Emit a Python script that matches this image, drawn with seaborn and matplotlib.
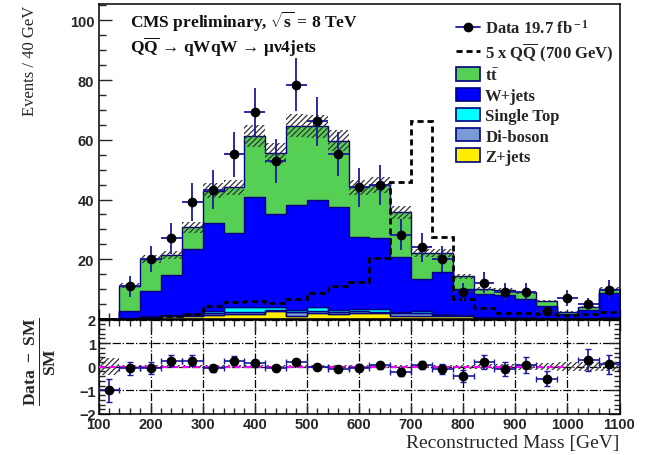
import numpy as np
import pandas as pd
import matplotlib
matplotlib.use("Agg")
import matplotlib.pyplot as plt
import seaborn as sns
from matplotlib.patches import Patch
from matplotlib.lines import Line2D
from matplotlib.ticker import MultipleLocator, FixedLocator

# ---------------- data ----------------
edges = list(range(100, 1101, 40))
centers = [e + 20 for e in edges[:-1]]

ttbar = [0.05, 8.4, 10.6, 6.7, 7.2, 11.0, 15.4, 20.2, 20.4, 26.6, 24.5, 22.1, 16.7,
         18.0, 15.0, 8.7, 6.5, 4.3, 1.5, 1.7, 2.2, 1.6, 0.8, 1.0, 1.4]
wjets = [0.05, 2.4, 8.6, 13.3, 21.7, 29.2, 24.8, 36.9, 31.1, 35.2, 36.1, 34.6, 24.1,
         23.6, 18.5, 10.8, 13.9, 8.5, 7.8, 7.3, 6.0, 4.1, 1.4, 2.8, 7.9]
single_top = [0.0, 0.1, 0.2, 0.3, 0.4, 0.8, 1.4, 1.6, 1.0, 0.8, 1.1, 0.8, 0.5,
              0.9, 0.2, 0.7, 0.4, 0.3, 0.2, 0.2, 0.2, 0.1, 0.1, 0.1, 0.2]
diboson = [0.0, 0.1, 0.2, 0.2, 0.3, 0.7, 0.8, 0.8, 0.4, 1.1, 0.8, 0.5, 0.8,
           0.5, 0.9, 0.8, 0.4, 0.3, 0.2, 0.2, 0.2, 0.1, 0.1, 0.1, 0.2]
zjets = [0.02, 0.2, 0.5, 0.9, 1.1, 1.3, 1.7, 1.7, 2.7, 1.1, 2.0, 1.7, 2.0,
         2.0, 1.1, 1.1, 0.9, 0.9, 0.3, 0.3, 0.3, 0.2, 0.1, 0.1, 0.3]
mc_unc = [0.05, 0.7, 1.2, 1.3, 1.9, 2.6, 2.6, 3.7, 3.3, 3.9, 3.9, 3.6, 2.6,
          2.7, 2.1, 1.3, 1.3, 0.9, 0.6, 0.6, 0.5, 0.4, 0.3, 0.3, 0.6]
signal = [0.0, 0.1, 0.2, 0.9, 1.7, 4.2, 5.8, 6.1, 5.4, 6.7, 8.7, 10.9, 12.3,
          20.5, 46.0, 66.2, 27.6, 6.8, 3.7, 2.0, 2.0, 1.7, 1.3, 1.7, 2.2]
data = [0, 10.9, 20.1, 27.0, 39.1, 43.3, 55.1, 69.2, 53.0, 78.4, 66.2, 55.3, 44.1,
        45.0, 28.3, 24.0, 20.1, 8.9, 12.1, 8.9, 8.9, 2.8, 7.0, 5.0, 9.8]
data_err = [0, 3.4, 4.5, 5.2, 6.3, 6.6, 7.4, 8.3, 7.3, 8.9, 8.1, 7.4, 6.6,
            6.7, 5.3, 4.9, 4.5, 3.0, 3.5, 3.0, 3.0, 1.7, 2.6, 2.2, 3.1]
ratio = [-1.0, -0.07, -0.04, 0.26, 0.26, -0.07, 0.26, 0.14, -0.07, 0.21, 0.0, -0.1, -0.04,
         0.07, -0.24, 0.07, -0.1, -0.4, 0.19, -0.11, 0.07, -0.5, np.nan, 0.29, 0.1]
ratio_err = [0.5, 0.28, 0.25, 0.22, 0.22, 0.15, 0.2, 0.15, 0.12, 0.12, 0.12, 0.13, 0.15,
             0.15, 0.17, 0.18, 0.2, 0.25, 0.3, 0.3, 0.33, 0.3, np.nan, 0.45, 0.4]
ratio_band = [0.36, 0.06, 0.06, 0.06, 0.06, 0.06, 0.06, 0.06, 0.06, 0.06, 0.06, 0.06, 0.06,
              0.06, 0.06, 0.07, 0.07, 0.08, 0.1, 0.1, 0.12, 0.14, 0.2, 0.2, 0.2]

processes = ["tt", "W+jets", "Single Top", "Di-boson", "Z+jets"]
proc_values = [ttbar, wjets, single_top, diboson, zjets]
colors = {"tt": "#55d055", "W+jets": "#0000ff", "Single Top": "#00ffff",
          "Di-boson": "#7b9bd6", "Z+jets": "#ffee00"}

# ---------------- style ----------------
sns.set_style("ticks")
plt.rcParams["font.family"] = ["Liberation Serif", "DejaVu Serif"]
plt.rcParams["mathtext.fontset"] = "custom"
plt.rcParams["mathtext.rm"] = "Liberation Serif:bold"
plt.rcParams["mathtext.bf"] = "Liberation Serif:bold"
plt.rcParams["mathtext.it"] = "Liberation Serif:italic:bold"
plt.rcParams["hatch.linewidth"] = 0.9
plt.rcParams["hatch.color"] = "#333333"

W, H = 646, 456
fig = plt.figure(figsize=(W / 100, H / 100), dpi=100)
L, R = 98.5, 619.5
ax = fig.add_axes([L / W, 1 - 320 / H, (R - L) / W, (320 - 5) / H])
ax2 = fig.add_axes([L / W, 1 - 415 / H, (R - L) / W, (415 - 320.5) / H])

# ---------------- stack (seaborn) ----------------
rows = []
for p, vals in zip(processes, proc_values):
    for c, v in zip(centers, vals):
        rows.append({"mass": c, "w": v, "process": p})
df = pd.DataFrame(rows)
sns.histplot(data=df, x="mass", weights="w", hue="process", hue_order=processes,
             multiple="stack", bins=edges, element="step", fill=True, alpha=1,
             palette=colors, edgecolor="#000080", linewidth=1.0, legend=False, ax=ax)

total = np.sum(np.array(proc_values), axis=0)
unc = np.array(mc_unc)
ax.stairs(total + unc, edges, baseline=total - unc, fill=True, hatch="//////",
          facecolor="none", edgecolor="#333333", linewidth=0, zorder=4)
ax.stairs(signal, edges, color="black", linestyle=(0, (2.2, 1.4)), linewidth=2.0, zorder=5)

d = np.array(data, dtype=float)
de = np.array(data_err, dtype=float)
cx = np.array(centers, dtype=float)
m = d > 0
ax.errorbar(cx[m], d[m], xerr=20, yerr=de[m], fmt="o", color="black", ms=6,
            ecolor="#1a1aa0", elinewidth=1.3, capsize=0, zorder=6)

ax.set_xlim(100, 1100)
ax.set_ylim(0, 105.5)
ax.set_xlabel("")
ax.set_ylabel("")
ax.yaxis.set_major_locator(FixedLocator([20, 40, 60, 80, 100]))
ax.yaxis.set_minor_locator(MultipleLocator(5))
ax.xaxis.set_major_locator(MultipleLocator(100))
ax.xaxis.set_minor_locator(MultipleLocator(20))
ax.tick_params(axis="both", which="both", direction="in")
ax.tick_params(axis="y", which="major", length=9, width=1, left=True, right=False, pad=3)
ax.tick_params(axis="y", which="minor", length=5, width=1, left=True, right=False)
ax.tick_params(axis="x", which="major", length=7, width=1, labelbottom=False)
ax.tick_params(axis="x", which="minor", length=4, width=1)
for lab in ax.get_yticklabels():
    lab.set_fontfamily("Liberation Sans")
    lab.set_fontweight("bold")
    lab.set_fontsize(10.5)
for s in ax.spines.values():
    s.set_linewidth(1.1)
    s.set_color("black")

# texts
ax.text(130 / W, 1 - 22 / H, r"CMS preliminary, $\sqrt{\rm s}$ = 8 TeV", transform=fig.transFigure,
        fontsize=12.5, fontweight="bold", va="center", ha="left", color="#111")
ax.text(130 / W, 1 - 47 / H, r"Q$\overline{\rm Q}$ → qWqW → μν4jets", transform=fig.transFigure,
        fontsize=12.5, fontweight="bold", va="center", ha="left", color="#111")

# legend
handles = [
    Line2D([0], [0], color="#1a1aa0", marker="o", markerfacecolor="k", markeredgecolor="k", ms=6, lw=1.3),
    Line2D([0], [0], color="black", linestyle=(0, (2.2, 1.4)), lw=2.0),
] + [Patch(facecolor=colors[p], edgecolor="#000080", linewidth=1.2) for p in processes]
labels = [r"Data 19.7 fb$^{\rm -1}$", r"5 x Q$\overline{\rm Q}$ (700 GeV)", r"t$\bar{\rm t}$",
          "W+jets", "Single Top", "Di-boson", "Z+jets"]
leg = ax.legend(handles, labels, loc="upper left", bbox_to_anchor=(456 / W, 1 - 20 / H),
                bbox_transform=fig.transFigure, frameon=False, borderpad=0, borderaxespad=0,
                handlelength=1.45, handleheight=0.85, handletextpad=0.3, labelspacing=0.23,
                prop={"family": "Liberation Serif", "weight": "bold", "size": 12})

# ---------------- ratio panel ----------------
rb = np.array(ratio_band)
ax2.stairs(rb, edges, baseline=-rb, fill=True, hatch="//////", facecolor="none",
           edgecolor="#333333", linewidth=0, zorder=2)
ax2.plot([100, 1000], [0, 0], color="magenta", linestyle=(0, (3, 2)), linewidth=1.5, zorder=3)
r = np.array(ratio, dtype=float)
re = np.array(ratio_err, dtype=float)
ok = ~np.isnan(r)
ax2.errorbar(cx[ok], r[ok], xerr=20, yerr=re[ok], fmt="o", color="black", ms=6,
             ecolor="#1a1aa0", elinewidth=1.2, capsize=2.5, capthick=1.0, zorder=5)
ax2.set_xlim(100, 1100)
ax2.set_ylim(-2, 2)
ax2.xaxis.set_major_locator(MultipleLocator(100))
ax2.xaxis.set_minor_locator(MultipleLocator(20))
ax2.yaxis.set_major_locator(MultipleLocator(1))
ax2.yaxis.set_minor_locator(MultipleLocator(0.2))
ax2.grid(True, which="major", color="black", linestyle="-.", linewidth=0.9)
ax2.tick_params(axis="both", which="both", direction="in", top=True, right=True)
ax2.tick_params(axis="both", which="major", length=8, width=1, pad=2)
ax2.tick_params(axis="x", which="major", pad=2)
ax2.tick_params(axis="both", which="minor", length=4, width=1)
for lab in ax2.get_xticklabels() + ax2.get_yticklabels():
    lab.set_fontfamily("Liberation Sans")
    lab.set_fontweight("bold")
    lab.set_fontsize(10.5)
for s in ax2.spines.values():
    s.set_linewidth(1.1)
    s.set_color("black")

ax2.set_xlabel("Reconstructed Mass [GeV]", fontsize=14, fontfamily="Liberation Serif", ha="right",
               x=1.0, labelpad=2)
fig.text(30 / W, 1 - 6 / H, "Events / 40 GeV", rotation=90, ha="center", va="top",
         fontsize=12, fontfamily="Liberation Serif")
fig.text(40 / W, 1 - 362 / H, r"$\frac{\rm Data\ -\ SM}{\rm SM}$", rotation=90, ha="center",
         va="center", fontsize=18)

fig.savefig("out.png", dpi=100)
